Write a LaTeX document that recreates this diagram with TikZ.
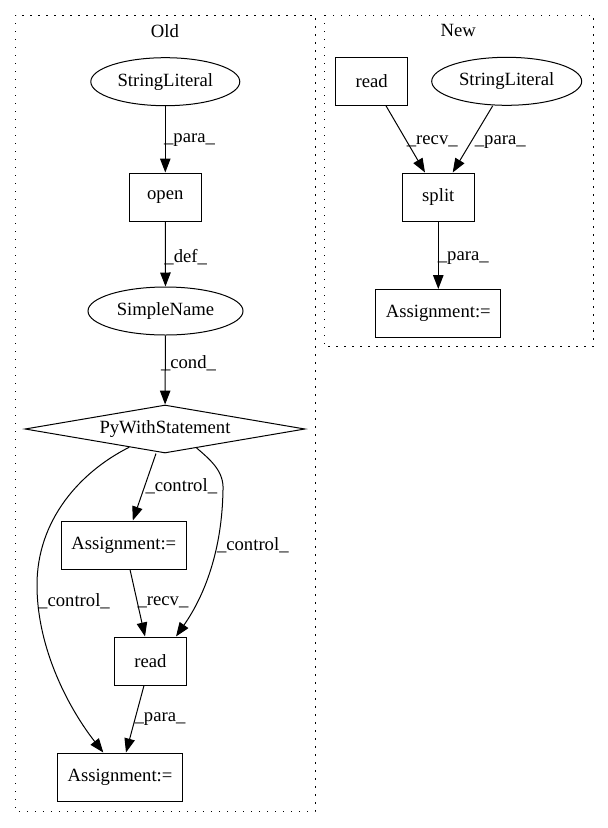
\documentclass[tikz,border=0pt]{standalone}
\usepackage{fontspec}
\setmainfont{Liberation Serif}
\usetikzlibrary{shapes.geometric,arrows.meta}
\begin{document}
\begin{tikzpicture}[x=1pt,y=-1pt,
  every node/.style={font=\fontsize{18.67}{22}\selectfont},
  boxnode/.style={draw, rectangle, line width=1pt, minimum height=48pt, minimum width=72pt, inner xsep=10pt},
  ellnode/.style={draw, ellipse, line width=1pt, minimum height=48pt, inner sep=0pt},
  dianode/.style={draw, diamond, line width=1pt, minimum width=280pt, minimum height=48pt, inner sep=0pt, shape aspect=5.8},
  edge/.style={draw, line width=1pt, -{Triangle[length=14pt,width=10.5pt]}},
  lbl/.style={inner sep=0pt},
  cluster/.style={draw, line width=1pt, dash pattern=on 1.3pt off 6.7pt}
]
\useasboundingbox (0,0) rectangle (608,828);
% clusters
\draw[cluster] (15.7,15) rectangle (315,811.7);
\draw[cluster] (324,15) rectangle (593.3,346.7);
\node (told) at (165,30.7) {Old};
\node (tnew) at (458.3,30.7) {New};
% Old nodes
\node[ellnode, minimum width=149pt] (sl1) at (165.3,81.7) {StringLiteral};
\node[boxnode] (open) at (165.3,197) {open};
\node[ellnode, minimum width=155pt] (sn) at (165.5,311) {SimpleName};
\node[dianode] (pw) at (165,429) {PyWithStatement};
\node[boxnode] (as1) at (123.8,545) {Assignment:=};
\node[boxnode] (rd1) at (150.5,661) {read};
\node[boxnode] (as2) at (120,777) {Assignment:=};
% New nodes
\node[boxnode] (rd2) at (371.7,81.3) {read};
\node[ellnode, minimum width=150pt] (sl2) at (506.7,81.3) {StringLiteral};
\node[boxnode] (sp) at (438.3,197) {split};
\node[boxnode] (as3) at (438.3,313.5) {Assignment:=};
% Old edges
\draw[edge] (sl1) -- (open);
\draw[edge] (open) -- (sn);
\draw[edge] (sn) -- (pw);
\draw[edge] ([xshift=-9pt]pw.south) -- ([xshift=9pt]as1.north);
\draw[edge] (pw.-31.5) .. controls (212,461) and (224,472) .. (223,490) .. controls (222,550) and (205,595) .. ([xshift=25.5pt]rd1.north);
\draw[edge] (pw.-153.4) .. controls (80,472) and (37,520) .. (37,585) .. controls (37,650) and (70,710) .. ([xshift=-16.7pt]as2.north);
\draw[edge] ([xshift=6.2pt]as1.south) -- ([xshift=-5.5pt]rd1.north);
\draw[edge] ([xshift=-6.5pt]rd1.south) -- ([xshift=6pt]as2.north);
% New edges
\draw[edge] ([xshift=14.3pt]rd2.south) -- ([xshift=-13.3pt]sp.north);
\draw[edge] ([xshift=-14pt]sl2.south) -- ([xshift=14.4pt]sp.north);
\draw[edge] (sp) -- (as3);
% labels
\node[lbl] (l1) at (189.5,140) {\_para\_};
\node[lbl] (l2) at (185.7,256.7) {\_def\_};
\node[lbl] (l3) at (188.5,363.3) {\_cond\_};
\node[lbl] (l4) at (181.3,486.7) {\_control\_};
\node[lbl] (l5) at (252.8,545) {\_control\_};
\node[lbl] (l6) at (74,601.7) {\_control\_};
\node[lbl] (l7) at (163,602.7) {\_recv\_};
\node[lbl] (l8) at (160,719.3) {\_para\_};
\node[lbl] (l9) at (432.3,141.7) {\_recv\_};
\node[lbl] (l10) at (500.3,142) {\_para\_};
\node[lbl] (l11) at (463.3,258.3) {\_para\_};
\end{tikzpicture}
\end{document}
